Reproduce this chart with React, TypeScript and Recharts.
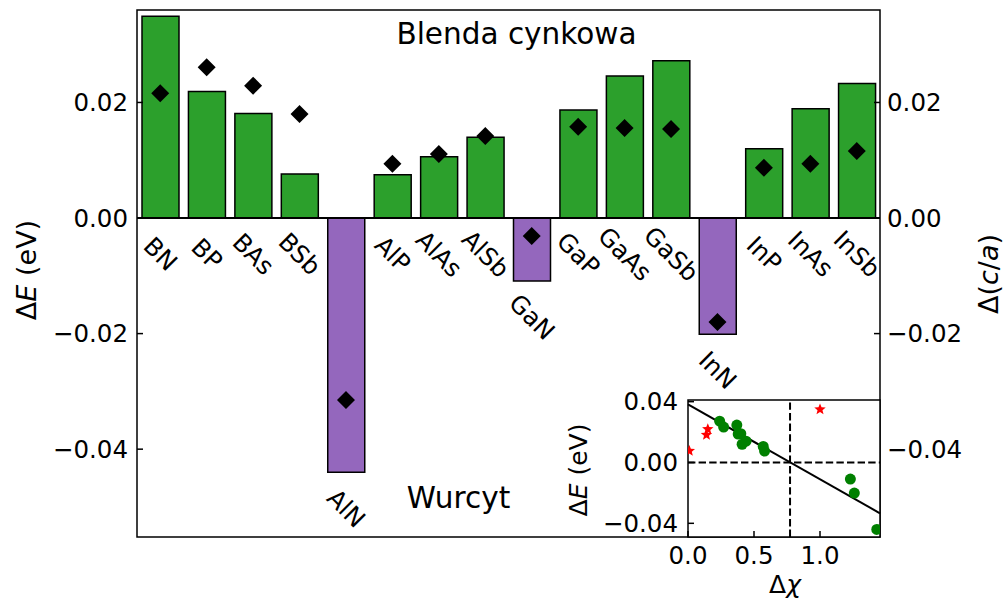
import React from 'react'
import {
  ComposedChart,
  ScatterChart,
  Bar,
  Line,
  Scatter,
  XAxis,
  YAxis,
  Cell,
  LabelList,
  ReferenceArea,
  ReferenceLine,
} from 'recharts'

// ΔE (bars, left axis) and Δ(c/a) (diamonds, right axis) per compound
const compounds = ['BN', 'BP', 'BAs', 'BSb', 'AlN', 'AlP', 'AlAs', 'AlSb', 'GaN', 'GaP', 'GaAs', 'GaSb', 'InN', 'InP', 'InAs', 'InSb']
const energyDiff = [0.0349, 0.0219, 0.0181, 0.0076, -0.044, 0.0075, 0.0106, 0.014, -0.0109, 0.0187, 0.0246, 0.0272, -0.0201, 0.012, 0.0189, 0.0233]
const caDiff = [0.0216, 0.0261, 0.0229, 0.018, -0.0315, 0.0094, 0.0111, 0.0142, -0.0031, 0.0158, 0.0156, 0.0154, -0.018, 0.0087, 0.0094, 0.0116]
const mainTicks = [0.02, 0, -0.02, -0.04]

// inset: ΔE against electronegativity difference Δχ
const chiOther = [0.24, 0.27, 0.37, 0.38, 0.4, 0.41, 0.44, 0.57, 0.58, 1.23, 1.26, 1.43]
const energyOther = [0.0272, 0.0233, 0.0246, 0.0187, 0.0189, 0.012, 0.014, 0.0106, 0.0075, -0.0109, -0.0201, -0.044]
const chiBoron = [0.01, 0.14, 0.15, 1.0]
const energyBoron = [0.0076, 0.0181, 0.0219, 0.0349]
const fitChi = [0, 1.4545]
const fitEnergy = [0.0382, -0.0334]
const chiCrossing = 0.773
const insetYTicks = [0.04, 0, -0.04]
const insetXTicks = [0, 0.5, 1.0]

const FONT = '"DejaVu Sans", sans-serif'
const GREEN = '#2ca02c'
const PURPLE = '#9467bd'

const barData = compounds.map((name, i) => ({ name, dE: energyDiff[i], dCA: caDiff[i] }))
const otherPts = chiOther.map((x, i) => ({ x, y: energyOther[i] }))
const boronPts = chiBoron.map((x, i) => ({ x, y: energyBoron[i] }))

const MAIN_DOMAIN: [number, number] = [-0.0552, 0.036]
const INSET_X: [number, number] = [0, 1.4545]
const INSET_Y: [number, number] = [-0.049, 0.0411]

const fmt = (v: number, digits: number) => (v < 0 ? '\u2212' : '') + Math.abs(v).toFixed(digits)

// tick that points into the plot instead of outwards
function InwardTick(props: any) {
  const { x, y, payload, side, gap, digits } = props
  let lx1 = x, lx2 = x, ly1 = y, ly2 = y
  let anchor = 'middle'
  let tx = x, ty = y
  if (side === 'left') {
    lx1 = x + gap; lx2 = lx1 + 6; anchor = 'end'
  } else if (side === 'right') {
    lx1 = x - gap; lx2 = lx1 - 6; anchor = 'start'
  } else {
    ly1 = y - gap; ly2 = ly1 - 6; ty = y + 10
  }
  return (
    <g>
      <line x1={lx1} x2={lx2} y1={ly1} y2={ly2} stroke="#000" strokeWidth={1.5} />
      <text x={tx} y={ty} textAnchor={anchor} dominantBaseline="central" fontSize={24.5} fontFamily={FONT} fill="#000">
        {fmt(payload.value, digits)}
      </text>
    </g>
  )
}

function CompoundLabel(props: any) {
  const { x, y, width, height, value } = props
  const cx = x + width / 2
  const base = Math.max(y, y + height)
  const cy = base + 36
  return (
    <text x={cx} y={cy} textAnchor="middle" dominantBaseline="central" fontSize={24.5} fontFamily={FONT}
      fill="#000" transform={`rotate(45 ${cx} ${cy})`}>
      {value}
    </text>
  )
}

function Diamond(props: any) {
  const { cx, cy } = props
  if (cx == null || cy == null) return null
  const r = 9
  return <path d={`M${cx},${cy - r}L${cx + r},${cy}L${cx},${cy + r}L${cx - r},${cy}Z`} fill="#000" />
}

function Star(props: any) {
  const { cx, cy } = props
  const pts: string[] = []
  for (let k = 0; k < 10; k++) {
    const r = k % 2 === 0 ? 6 : 2.6
    const a = -Math.PI / 2 + (k * Math.PI) / 5
    pts.push(`${cx + r * Math.cos(a)},${cy + r * Math.sin(a)}`)
  }
  return <polygon points={pts.join(' ')} fill="red" />
}

function Dot(props: any) {
  return <circle cx={props.cx} cy={props.cy} r={5.5} fill="#008000" />
}

export default function App() {
  return (
    <div style={{ position: 'absolute', left: 0, top: 0, width: 1005, height: 603, background: '#fff', fontFamily: FONT }}>
      <ComposedChart width={1005} height={603} data={barData} margin={{ top: 10, right: 0, bottom: 66, left: 0 }}>
        <XAxis dataKey="name" hide />
        <YAxis yAxisId="left" orientation="left" width={137} domain={MAIN_DOMAIN} ticks={mainTicks} type="number"
          allowDataOverflow axisLine={false} tickLine={false} tickSize={0} tickMargin={9}
          tick={(p: any) => <InwardTick {...p} side="left" gap={9} digits={2} />} />
        <YAxis yAxisId="right" orientation="right" width={125} domain={MAIN_DOMAIN} ticks={mainTicks} type="number"
          allowDataOverflow axisLine={false} tickLine={false} tickSize={0} tickMargin={7}
          tick={(p: any) => <InwardTick {...p} side="right" gap={7} digits={2} />} />
        <ReferenceArea yAxisId="left" y1={MAIN_DOMAIN[0]} y2={MAIN_DOMAIN[1]} fill="none" stroke="#000" strokeWidth={1.5} fillOpacity={0} />
        <Bar yAxisId="left" dataKey="dE" barSize={37} stroke="#000" strokeWidth={1.5} isAnimationActive={false}>
          {barData.map((d) => (
            <Cell key={d.name} fill={d.dE < 0 ? PURPLE : GREEN} />
          ))}
          <LabelList dataKey="name" content={(p: any) => <CompoundLabel {...p} />} />
        </Bar>
        <ReferenceLine yAxisId="left" y={0} stroke="#000" strokeWidth={2} />
        <Line yAxisId="right" dataKey="dCA" stroke="none" isAnimationActive={false} activeDot={false}
          dot={(p: any) => <Diamond key={p.index} {...p} />} />
        <text x={516.5} y={43.5} textAnchor="middle" fontSize={29.5} fontFamily={FONT} fill="#000">Blenda cynkowa</text>
        <text x={458.5} y={508} textAnchor="middle" fontSize={29.5} fontFamily={FONT} fill="#000">Wurcyt</text>
        <text x={26} y={270} textAnchor="middle" dominantBaseline="central" fontSize={27} fontFamily={FONT} fill="#000"
          transform="rotate(-90 26 270)">
          Δ<tspan fontStyle="italic">E</tspan> (eV)
        </text>
        <text x={988} y={274} textAnchor="middle" dominantBaseline="central" fontSize={27} fontFamily={FONT} fill="#000"
          transform="rotate(-90 988 274)">
          Δ(<tspan fontStyle="italic">c</tspan>/<tspan fontStyle="italic">a</tspan>)
        </text>
      </ComposedChart>

      <div style={{ position: 'absolute', left: 688, top: 400, width: 192, height: 137, background: '#fff' }} />
      <div style={{ position: 'absolute', left: 540, top: 380 }}>
        <ScatterChart width={465} height={223} margin={{ top: 20, right: 125, bottom: 26, left: 88 }}>
          <XAxis type="number" dataKey="x" domain={INSET_X} ticks={insetXTicks} height={40} allowDataOverflow
            axisLine={false} tickLine={false} tickSize={0} tickMargin={8}
            tick={(p: any) => <InwardTick {...p} side="bottom" gap={8} digits={1} />} />
          <YAxis type="number" dataKey="y" domain={INSET_Y} ticks={insetYTicks} width={60} allowDataOverflow
            axisLine={false} tickLine={false} tickSize={0} tickMargin={10}
            tick={(p: any) => <InwardTick {...p} side="left" gap={10} digits={2} />} />
          <ReferenceArea x1={INSET_X[0]} x2={INSET_X[1]} y1={INSET_Y[0]} y2={INSET_Y[1]} fill="none" fillOpacity={0}
            stroke="#000" strokeWidth={1.5} />
          <ReferenceLine y={0} stroke="#000" strokeWidth={2} strokeDasharray="7.4 3.2" />
          <ReferenceLine x={chiCrossing} stroke="#000" strokeWidth={2} strokeDasharray="7.4 3.2" />
          <ReferenceLine segment={[{ x: fitChi[0], y: fitEnergy[0] }, { x: fitChi[1], y: fitEnergy[1] }]}
            stroke="#000" strokeWidth={2} />
          <Scatter data={otherPts} shape={(p: any) => <Dot {...p} />} isAnimationActive={false} />
          <Scatter data={boronPts} shape={(p: any) => <Star {...p} />} isAnimationActive={false} />
          <text x={245} y={213} textAnchor="middle" fontSize={25} fontFamily={FONT} fill="#000">
            Δ<tspan fontStyle="italic">χ</tspan>
          </text>
          <text x={38} y={90} textAnchor="middle" dominantBaseline="central" fontSize={25} fontFamily={FONT} fill="#000"
            transform="rotate(-90 38 90)">
            Δ<tspan fontStyle="italic">E</tspan> (eV)
          </text>
        </ScatterChart>
      </div>
    </div>
  )
}
